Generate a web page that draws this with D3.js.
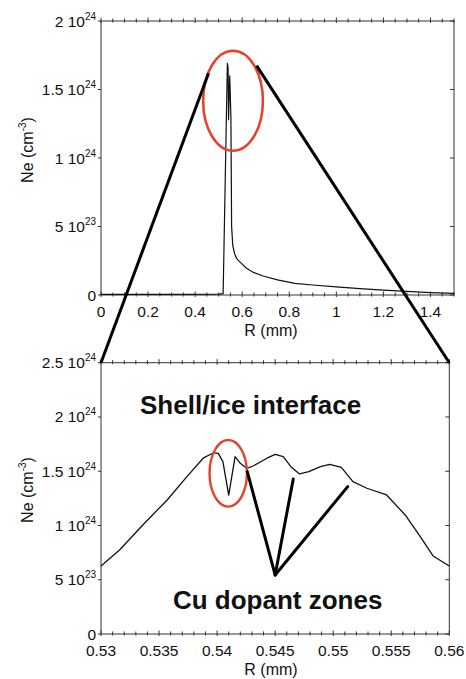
<!DOCTYPE html>
<html>
  <head>
    <meta charset="utf-8">
    <title>Ne profile</title>
    <script type="text/javascript" src="https://cdn.jsdelivr.net/npm/d3@7"></script>
    <style type='text/css'>
      body { margin: 0; background: #fff; }
      text { font-family: 'Liberation Sans', Arial, sans-serif; fill: #111; }
    </style>
  </head>
  <body>
    <script type="text/javascript">
      var w = 466;
      var h = 679;

      // top panel: full profile (Ne in units of 1e24 cm^-3)
      var topR  = [0, 0.3, 0.5, 0.519, 0.537, 0.540, 0.542, 0.547, 0.552, 0.555, 0.560, 0.568, 0.578, 0.6, 0.618, 0.65, 0.689, 0.75, 0.823, 0.9, 1.0, 1.1, 1.2, 1.3, 1.4, 1.5];
      var topNe = [0.004, 0.004, 0.006, 0.01, 1.69, 1.66, 1.28, 1.60, 1.3, 0.5, 0.36, 0.30, 0.262, 0.225, 0.195, 0.163, 0.139, 0.11, 0.085, 0.073, 0.06, 0.047, 0.036, 0.026, 0.018, 0.012];

      // bottom panel: zoom on the shell/ice interface
      var botR  = [0.53, 0.5316, 0.5336, 0.5357, 0.5374, 0.5388, 0.5397, 0.5401, 0.5405, 0.5410, 0.54155, 0.5420, 0.54255, 0.5431, 0.5443, 0.5450, 0.5457, 0.5464, 0.5471, 0.5479, 0.5489, 0.5497, 0.5507, 0.5517, 0.5529, 0.5546, 0.5562, 0.5575, 0.5586, 0.56];
      var botNe = [0.627, 0.774, 1.005, 1.235, 1.45, 1.62, 1.67, 1.665, 1.588, 1.28, 1.634, 1.573, 1.527, 1.548, 1.62, 1.656, 1.634, 1.536, 1.475, 1.496, 1.542, 1.564, 1.536, 1.404, 1.343, 1.281, 1.097, 0.897, 0.719, 0.627];

      var topXTicks = [0, 0.2, 0.4, 0.6, 0.8, 1, 1.2, 1.4];
      var topXLabels = ['0', '0.2', '0.4', '0.6', '0.8', '1', '1.2', '1.4'];
      var topYTicks = [0, 0.5, 1, 1.5, 2];
      var topYMant = ['0', '5', '1', '1.5', '2'];
      var topYExp = ['', '23', '24', '24', '24'];

      var botXTicks = [0.53, 0.535, 0.54, 0.545, 0.55, 0.555, 0.56];
      var botXLabels = ['0.53', '0.535', '0.54', '0.545', '0.55', '0.555', '0.56'];
      var botYTicks = [0, 0.5, 1, 1.5, 2, 2.5];
      var botYMant = ['0', '5', '1', '1.5', '2', '2.5'];
      var botYExp = ['', '23', '24', '24', '24', '24'];

      // zoom lines: start in top panel (R, Ne), end in bottom panel (R, Ne)
      var zoomFrom = [[0.457, 1.618], [0.661, 1.674]];
      var zoomTo = [[0.53, 2.5], [0.56, 2.5]];

      // Cu dopant pointer lines (bottom panel)
      var cuOrigin = [0.545, 0.544];
      var cuTargets = [[0.5426, 1.496], [0.54656, 1.429], [0.55125, 1.358]];

      var svg = d3.select('body')
                  .append('svg')
                  .attr('width', w)
                  .attr('height', h);

      var xTop = d3.scaleLinear().domain([0, 1.5]).range([101, 454]);
      var yTop = d3.scaleLinear().domain([0, 2]).range([295, 21]);
      var xBot = d3.scaleLinear().domain([0.53, 0.56]).range([101, 449.3]);
      var yBot = d3.scaleLinear().domain([0, 2.5]).range([634, 362.7]);

      function minorTicks(a, b, step) {
        var out = [];
        var n = Math.round((b - a) / step);
        for (var i = 0; i <= n; i++) out.push(a + i * step);
        return out;
      }

      function panel(x, y, xMinorStep, xTicks, xLabels, yTicks, yMant, yExp, yTitleCenter) {
        var g = svg.append('g');
        var x0 = x.range()[0], x1 = x.range()[1];
        var y0 = y.range()[0], y1 = y.range()[1];
        var minors = minorTicks(x.domain()[0], x.domain()[1], xMinorStep);
        var isMajor = function(d) {
          return xTicks.some(function(t) { return Math.abs(t - d) < 1e-9; });
        };

        // frame
        g.append('rect')
          .attr('x', x0).attr('y', y1)
          .attr('width', x1 - x0).attr('height', y0 - y1)
          .attr('fill', 'none').attr('stroke', '#333').attr('stroke-width', 1);

        // crossing ticks on top and bottom edges
        [y0, y1].forEach(function(yy) {
          g.selectAll(null).data(minors).enter().append('line')
            .attr('x1', function(d) { return x(d); })
            .attr('x2', function(d) { return x(d); })
            .attr('y1', function(d) { return yy - (isMajor(d) ? 3.5 : 2.5); })
            .attr('y2', function(d) { return yy + (isMajor(d) ? 2 : 1.5); })
            .attr('stroke', '#333').attr('stroke-width', 1);
        });

        // y ticks: outward on left, inward on right
        g.selectAll(null).data(yTicks).enter().append('line')
          .attr('x1', x0 - 3).attr('x2', x0)
          .attr('y1', function(d) { return y(d); }).attr('y2', function(d) { return y(d); })
          .attr('stroke', '#333');
        g.selectAll(null).data(yTicks).enter().append('line')
          .attr('x1', x1 - 4).attr('x2', x1)
          .attr('y1', function(d) { return y(d); }).attr('y2', function(d) { return y(d); })
          .attr('stroke', '#333');

        // x tick labels
        g.selectAll(null).data(xTicks).enter().append('text')
          .text(function(d, i) { return xLabels[i]; })
          .attr('x', function(d) { return x(d); })
          .attr('y', y0 + 22)
          .attr('font-size', '15.5px')
          .attr('text-anchor', 'middle');

        // y tick labels with superscript exponent
        var yl = g.selectAll(null).data(yTicks).enter().append('text')
          .attr('x', x0 - 5)
          .attr('y', function(d) { return y(d) + 5.5; })
          .attr('font-size', '15.5px')
          .attr('text-anchor', 'end');
        yl.append('tspan').text(function(d, i) { return yExp[i] ? yMant[i] + ' 10' : yMant[i]; });
        yl.append('tspan')
          .text(function(d, i) { return yExp[i]; })
          .attr('font-size', '10px')
          .attr('dy', '-7');

        // axis titles
        g.append('text')
          .text('R (mm)')
          .attr('x', 271)
          .attr('y', y0 + 41)
          .attr('font-size', '16px')
          .attr('text-anchor', 'middle');

        var yt = g.append('text')
          .attr('transform', 'translate(33,' + yTitleCenter + ') rotate(-90)')
          .attr('font-size', '16px')
          .attr('text-anchor', 'middle');
        yt.append('tspan').text('Ne (cm');
        yt.append('tspan').text('-3').attr('font-size', '10px').attr('dy', '-7');
        yt.append('tspan').text(')').attr('dy', '7');

        return g;
      }

      panel(xTop, yTop, 0.05, topXTicks, topXLabels, topYTicks, topYMant, topYExp, 150);
      panel(xBot, yBot, 0.001, botXTicks, botXLabels, botYTicks, botYMant, botYExp, 490);

      var topLine = d3.line()
        .x(function(d) { return xTop(d[0]); })
        .y(function(d) { return yTop(d[1]); });
      var botLine = d3.line()
        .x(function(d) { return xBot(d[0]); })
        .y(function(d) { return yBot(d[1]); });

      svg.append('path')
        .datum(d3.zip(topR, topNe))
        .attr('d', topLine)
        .attr('fill', 'none')
        .attr('stroke', '#111')
        .attr('stroke-width', 1.2)
        .attr('stroke-linejoin', 'round');

      svg.append('path')
        .datum(d3.zip(botR, botNe))
        .attr('d', botLine)
        .attr('fill', 'none')
        .attr('stroke', '#111')
        .attr('stroke-width', 1.3)
        .attr('stroke-linejoin', 'round');

      // red ellipses
      svg.append('ellipse')
        .attr('cx', xTop(0.561)).attr('cy', yTop(1.418))
        .attr('rx', xTop(0.561 + 0.127) - xTop(0.561))
        .attr('ry', yTop(1.418) - yTop(1.418 + 0.365))
        .attr('fill', 'none').attr('stroke', '#e8412b').attr('stroke-width', 2.6);

      svg.append('ellipse')
        .attr('cx', xBot(0.54096)).attr('cy', yBot(1.481))
        .attr('rx', xBot(0.54096 + 0.00161) - xBot(0.54096))
        .attr('ry', yBot(1.481) - yBot(1.481 + 0.307))
        .attr('fill', 'none').attr('stroke', '#e8412b').attr('stroke-width', 2.4);

      // zoom connector lines
      svg.selectAll(null)
        .data(d3.zip(zoomFrom, zoomTo))
        .enter()
        .append('line')
        .attr('x1', function(d) { return xTop(d[0][0]); })
        .attr('y1', function(d) { return yTop(d[0][1]); })
        .attr('x2', function(d) { return xBot(d[1][0]); })
        .attr('y2', function(d) { return yBot(d[1][1]); })
        .attr('stroke', '#000')
        .attr('stroke-width', 3);

      // Cu dopant pointers
      svg.selectAll(null)
        .data(cuTargets)
        .enter()
        .append('line')
        .attr('x1', xBot(cuOrigin[0]))
        .attr('y1', yBot(cuOrigin[1]))
        .attr('x2', function(d) { return xBot(d[0]); })
        .attr('y2', function(d) { return yBot(d[1]); })
        .attr('stroke', '#000')
        .attr('stroke-width', 3)
        .attr('stroke-linecap', 'round');

      svg.append('text')
        .text('Shell/ice interface')
        .attr('x', xBot(0.53336))
        .attr('y', yBot(2.028))
        .attr('font-size', '26px')
        .attr('font-weight', 'bold');

      svg.append('text')
        .text('Cu dopant zones')
        .attr('x', xBot(0.5362))
        .attr('y', yBot(0.228))
        .attr('font-size', '26px')
        .attr('font-weight', 'bold');
    </script>
  </body>
</html>
